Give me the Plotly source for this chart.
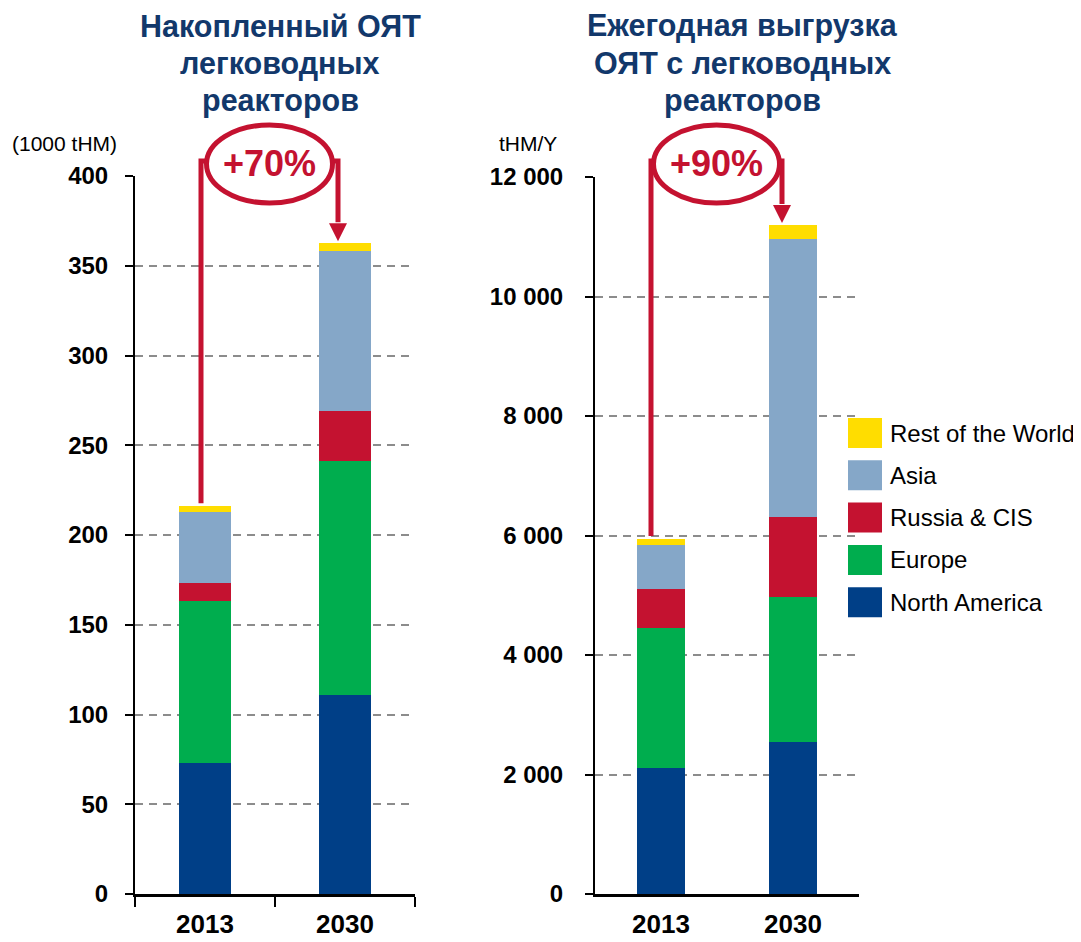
import plotly.graph_objects as go

# ---------------- data ----------------
years = ["2013", "2030"]
series_names = ["North America", "Europe", "Russia & CIS", "Asia", "Rest of the World"]
series_colors = ["#003F87", "#00AD4E", "#C41230", "#85A7C8", "#FFDD00"]

# accumulated LWR spent fuel (1000 tHM)
acc_north_america = [73, 111]
acc_europe = [90, 130]
acc_russia_cis = [10, 28]
acc_asia = [40, 89]
acc_rest = [3, 4.5]

# annual LWR unloading (tHM/Y)
ann_north_america = [2110, 2545]
ann_europe = [2345, 2425]
ann_russia_cis = [650, 1340]
ann_asia = [735, 4650]
ann_rest = [100, 235]

left_ticks = [0, 50, 100, 150, 200, 250, 300, 350, 400]
right_ticks = [0, 2000, 4000, 6000, 8000, 10000, 12000]

left_title = ["Накопленный ОЯТ", "легководных", "реакторов"]
right_title = ["Ежегодная выгрузка", "ОЯТ с легководных", "реакторов"]
left_unit = "(1000 tHM)"
right_unit = "tHM/Y"
left_growth = "+70%"
right_growth = "+90%"

# ---------------- layout helpers ----------------
W, H = 1081, 942
OFF = 8  # page body margin offset
RED = "#C41230"
NAVY = "#12386B"
FONT = "Liberation Sans, Arial, sans-serif"


def xp(px):
    return (px - OFF) / W


def yp(py):
    return 1 - (py - OFF) / H


L_dom_x = [xp(135), xp(415)]
L_dom_y = [yp(894), yp(176)]
L_range = [0, 400]
R_dom_x = [xp(595), xp(859)]
R_dom_y = [yp(894), yp(177)]
R_range = [0, 12000]


def val_to_paper(v, dom, rng):
    return dom[0] + (v - rng[0]) / (rng[1] - rng[0]) * (dom[1] - dom[0])


def cat_to_paper(i, dom):
    return dom[0] + (i + 0.5) / 2 * (dom[1] - dom[0])


left_series = [acc_north_america, acc_europe, acc_russia_cis, acc_asia, acc_rest]
right_series = [ann_north_america, ann_europe, ann_russia_cis, ann_asia, ann_rest]

fig = go.Figure()
for name, color, vals in zip(series_names, series_colors, left_series):
    fig.add_trace(go.Bar(x=years, y=vals, name=name, marker=dict(color=color, line=dict(width=0)),
                         xaxis="x", yaxis="y", showlegend=False))
for name, color, vals in zip(series_names, series_colors, right_series):
    fig.add_trace(go.Bar(x=years, y=vals, name=name, marker=dict(color=color, line=dict(width=0)),
                         xaxis="x2", yaxis="y2", showlegend=False))

grid = dict(showgrid=True, gridcolor="#8C8C8C", gridwidth=2, griddash="8px,6px", zeroline=False,
            showline=True, linecolor="black", linewidth=2, ticks="outside", ticklen=8, tickwidth=2,
            tickcolor="black", automargin=False,
            tickfont=dict(family=FONT, size=24, color="black", weight="bold"))

xcommon = dict(type="category", range=[-0.5, 1.5], showgrid=False, zeroline=False, showline=True,
               linecolor="black", linewidth=2.5, automargin=False, ticklabelstandoff=5,
               tickfont=dict(family=FONT, size=26, color="black", weight="bold"))

fig.update_layout(
    width=W, height=H, margin=dict(l=0, r=0, t=0, b=0, autoexpand=False),
    paper_bgcolor="white", plot_bgcolor="white",
    barmode="stack", bargap=0.635, separators=". ", showlegend=False,
    xaxis=dict(domain=L_dom_x, anchor="y", ticks="outside", tickson="boundaries", ticklen=10,
               tickwidth=2, tickcolor="black", **xcommon),
    yaxis=dict(domain=L_dom_y, anchor="x", range=L_range, tickvals=left_ticks,
               ticklabelstandoff=12, **grid),
    xaxis2=dict(domain=R_dom_x, anchor="y2", ticks="", **xcommon),
    yaxis2=dict(domain=R_dom_y, anchor="x2", range=R_range, tickvals=right_ticks, tickformat=",d",
                ticklabelstandoff=17, **grid),
)

shapes = []
annotations = []

# titles (one annotation per line) and units
title_baselines = [36, 74, 111]
for lines, cx in ((left_title, 280), (right_title, 742)):
    for line, base in zip(lines, title_baselines):
        annotations.append(dict(x=xp(cx), y=yp(base + 9), xref="paper", yref="paper", text=line,
                                showarrow=False, xanchor="center", yanchor="bottom",
                                font=dict(family=FONT, size=30.5, color=NAVY, weight="bold")))
annotations.append(dict(x=xp(10), y=yp(144), xref="paper", yref="paper", text=left_unit,
                        showarrow=False, xanchor="left", yanchor="middle",
                        font=dict(family=FONT, size=21, color="black")))
annotations.append(dict(x=xp(528), y=yp(144), xref="paper", yref="paper", text=right_unit,
                        showarrow=False, xanchor="center", yanchor="middle",
                        font=dict(family=FONT, size=21, color="black")))


def growth_marker(dom_x, dom_y, rng, totals, off_l, off_r, label):
    xl = cat_to_paper(0, dom_x) + off_l / W
    xr = cat_to_paper(1, dom_x) + off_r / W
    y_bot = val_to_paper(totals[0], dom_y, rng) + 3 / H
    y_tip = val_to_paper(totals[1], dom_y, rng) + 2 / H
    y_top = yp(161)
    head = 18
    y_head = y_tip + head / H
    shapes.append(dict(type="path", xref="paper", yref="paper",
                       path=f"M {xl},{y_bot} L {xl},{y_top} L {xl + 8 / W},{y_top}",
                       line=dict(color=RED, width=5)))
    shapes.append(dict(type="path", xref="paper", yref="paper",
                       path=f"M {xr - 8 / W},{y_top} L {xr},{y_top} L {xr},{y_head + 1 / H}",
                       line=dict(color=RED, width=5)))
    shapes.append(dict(type="path", xref="paper", yref="paper",
                       path=f"M {xr - 9 / W},{y_head} L {xr + 9 / W},{y_head} L {xr},{y_tip} Z",
                       fillcolor=RED, line=dict(color=RED, width=0)))
    cx = (xl + xr) / 2
    shapes.append(dict(type="circle", xref="paper", yref="paper",
                       x0=cx - 63 / W, x1=cx + 63 / W, y0=yp(203), y1=yp(125),
                       fillcolor="white", line=dict(color=RED, width=5)))
    annotations.append(dict(x=cx, y=yp(164), xref="paper", yref="paper", text=label,
                            showarrow=False, xanchor="center", yanchor="middle",
                            font=dict(family=FONT, size=36, color=RED, weight="bold")))


left_totals = [sum(v[i] for v in left_series) for i in range(2)]
right_totals = [sum(v[i] for v in right_series) for i in range(2)]
growth_marker(L_dom_x, L_dom_y, L_range, left_totals, -4, -7, left_growth)
growth_marker(R_dom_x, R_dom_y, R_range, right_totals, -10, -11, right_growth)

# custom legend (top item = last series)
leg_x0, leg_top, sw_w, sw_h, step = 848, 418, 34, 30, 42.3
for k, (name, color) in enumerate(zip(reversed(series_names), reversed(series_colors))):
    top = leg_top + k * step
    shapes.append(dict(type="rect", xref="paper", yref="paper",
                       x0=xp(leg_x0), x1=xp(leg_x0 + sw_w), y0=yp(top + sw_h), y1=yp(top),
                       fillcolor=color, line=dict(width=0)))
    annotations.append(dict(x=xp(leg_x0 + sw_w + 6), y=yp(top + sw_h / 2), xref="paper", yref="paper",
                            text=name, showarrow=False, xanchor="left", yanchor="middle",
                            font=dict(family=FONT, size=24, color="black")))

fig.update_layout(shapes=shapes, annotations=annotations)
fig.write_html("out.html")
